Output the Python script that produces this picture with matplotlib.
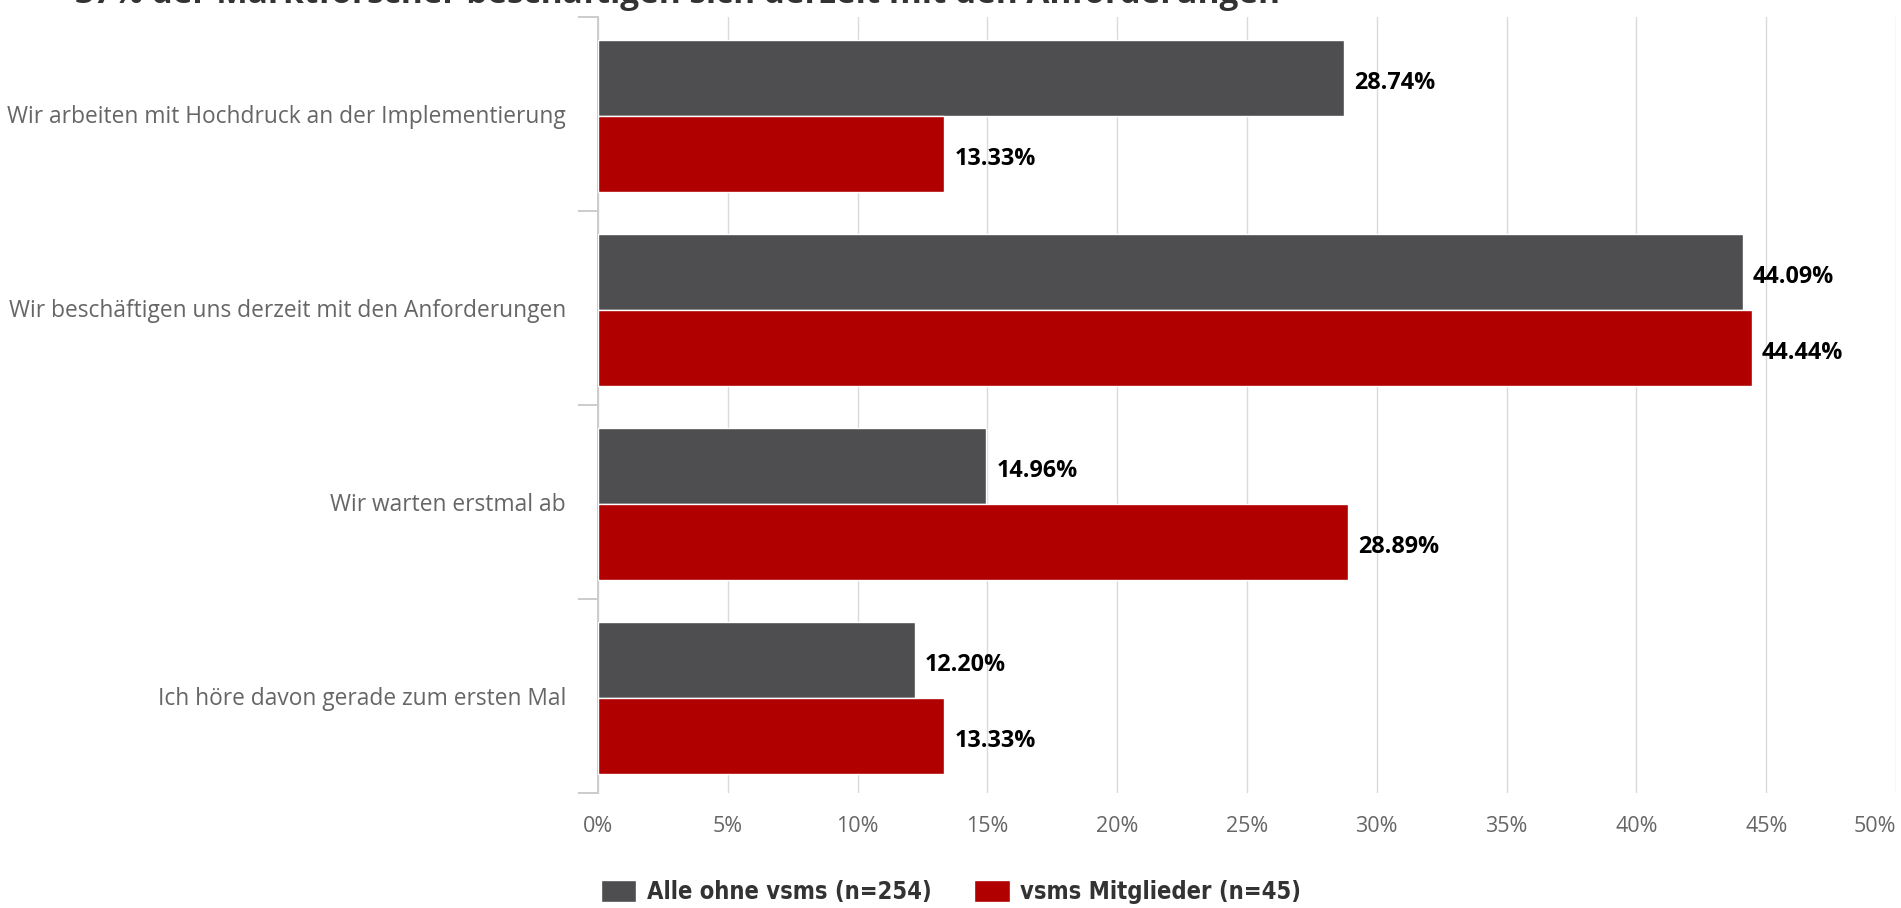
import matplotlib
matplotlib.use("Agg")
import matplotlib.pyplot as plt
from matplotlib.patches import Patch
from matplotlib.ticker import FixedLocator

# Survey answers and shares per group (percent)
categories = [
    "Wir arbeiten mit Hochdruck an der Implementierung",
    "Wir beschäftigen uns derzeit mit den Anforderungen",
    "Wir warten erstmal ab",
    "Ich höre davon gerade zum ersten Mal",
]
alle_ohne_vsms = [28.74, 44.09, 14.96, 12.20]
vsms_mitglieder = [13.33, 44.44, 28.89, 13.33]
series_labels = ["Alle ohne vsms (n=254)", "vsms Mitglieder (n=45)"]
x_ticks = [0, 5, 10, 15, 20, 25, 30, 35, 40, 45, 50]

GRAY = "#4e4e50"
RED = "#b00000"
AXIS = "#cccccc"

plt.rcParams["font.family"] = ["Open Sans", "DejaVu Sans"]

W, H = 1901, 908
fig = plt.figure(figsize=(W / 100, H / 100), dpi=100)
ax = fig.add_axes([598 / W, 1 - 793 / H, (1896 - 598) / W, (793 - 17) / H])

ypos = list(range(len(categories)))
bar_h = 0.39
gray_y = [y - 0.185 for y in ypos]
red_y = [y + 0.205 for y in ypos]
ax.barh(gray_y, alle_ohne_vsms, height=bar_h, color=GRAY, edgecolor="white", linewidth=1, zorder=3)
ax.barh(red_y, vsms_mitglieder, height=bar_h, color=RED, edgecolor="white", linewidth=1, zorder=3)

# value labels next to each bar
for yy, v in zip(gray_y + red_y, alle_ohne_vsms + vsms_mitglieder):
    ax.annotate(f"{v:.2f}%", xy=(v, yy), xytext=(7.5, -3.5), textcoords="offset points",
                va="center", ha="left", fontsize=16.8, fontweight="bold",
                color="black", zorder=4)

ax.set_xlim(0, 50)
ax.set_ylim(len(categories) - 0.5, -0.5)

# vertical grid
ax.set_xticks(x_ticks)
ax.set_xticklabels([f"{t}%" for t in x_ticks])
ax.grid(axis="x", color="#dadada", linewidth=1.0, zorder=0)
ax.tick_params(axis="x", length=0, pad=16.5, labelsize=15.5, labelcolor="#666666")
ax.get_xticklabels()[-1].set_horizontalalignment("right")

# category labels centred, boundary ticks on minor locator
ax.set_yticks(ypos)
ax.set_yticklabels(categories)
ax.yaxis.set_minor_locator(FixedLocator([y - 0.5 for y in ypos] + [len(categories) - 0.5]))
ax.tick_params(axis="y", which="major", length=0, pad=23, labelsize=16.4, labelcolor="#666666")
ax.tick_params(axis="y", which="minor", length=14.4, width=1.4, color=AXIS)

for side in ["top", "right", "bottom"]:
    ax.spines[side].set_visible(False)
ax.spines["left"].set_color(AXIS)
ax.spines["left"].set_linewidth(1.4)

# title, mostly cut off by the top edge
fig.text(75 / W, 1 - 3 / H, "37% der Marktforscher beschäftigen sich derzeit mit den Anforderungen",
         ha="left", va="baseline", fontsize=24, fontweight="bold", color="#333333")

handles = [Patch(facecolor=GRAY, edgecolor="white"), Patch(facecolor=RED, edgecolor="white")]
fig.legend(handles, series_labels, loc="lower left", bbox_to_anchor=(601 / W, 4 / H),
           ncol=2, frameon=False, borderaxespad=0, borderpad=0,
           handlelength=1.5, handleheight=1.05, handletextpad=0.45, columnspacing=1.8,
           prop={"family": ["DejaVu Sans Condensed", "DejaVu Sans"], "stretch": "condensed",
                 "weight": "bold", "size": 17},
           labelcolor="#333333")

fig.savefig("out.png", dpi=100)
